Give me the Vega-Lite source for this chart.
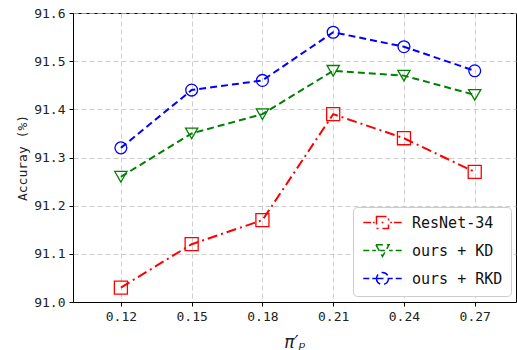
{
  "$schema": "https://vega.github.io/schema/vega-lite/v6.json",
  "width": 443,
  "height": 289,
  "autosize": {"type": "none"},
  "padding": {"left": 73, "top": 13, "right": 1, "bottom": 48},
  "background": "white",
  "config": {
    "view": {"stroke": "black", "strokeWidth": 1},
    "font": "DejaVu Sans Mono",
    "axis": {
      "domainColor": "black",
      "domainWidth": 1,
      "tickColor": "black",
      "tickSize": 4,
      "labelColor": "#222222",
      "labelFont": "DejaVu Sans Mono",
      "labelFontSize": 13,
      "gridColor": "#c0c0c0",
      "gridDash": [5, 3],
      "gridWidth": 0.8,
      "titleFontWeight": "normal",
      "titleColor": "#222222"
    }
  },
  "data": {
    "values": [
      {"pi": 0.12, "series": "ResNet-34", "acc": 91.03},
      {"pi": 0.15, "series": "ResNet-34", "acc": 91.12},
      {"pi": 0.18, "series": "ResNet-34", "acc": 91.17},
      {"pi": 0.21, "series": "ResNet-34", "acc": 91.39},
      {"pi": 0.24, "series": "ResNet-34", "acc": 91.34},
      {"pi": 0.27, "series": "ResNet-34", "acc": 91.27},
      {"pi": 0.12, "series": "ours + KD", "acc": 91.26},
      {"pi": 0.15, "series": "ours + KD", "acc": 91.35},
      {"pi": 0.18, "series": "ours + KD", "acc": 91.39},
      {"pi": 0.21, "series": "ours + KD", "acc": 91.48},
      {"pi": 0.24, "series": "ours + KD", "acc": 91.47},
      {"pi": 0.27, "series": "ours + KD", "acc": 91.43},
      {"pi": 0.12, "series": "ours + RKD", "acc": 91.32},
      {"pi": 0.15, "series": "ours + RKD", "acc": 91.44},
      {"pi": 0.18, "series": "ours + RKD", "acc": 91.46},
      {"pi": 0.21, "series": "ours + RKD", "acc": 91.56},
      {"pi": 0.24, "series": "ours + RKD", "acc": 91.53},
      {"pi": 0.27, "series": "ours + RKD", "acc": 91.48}
    ]
  },
  "encoding": {
    "x": {
      "field": "pi",
      "type": "quantitative",
      "scale": {"domain": [0.0997, 0.2875], "nice": false, "zero": false},
      "axis": {
        "values": [0.12, 0.15, 0.18, 0.21, 0.24, 0.27],
        "format": ".2f",
        "labelPadding": 4,
        "title": "π′ₚ",
        "titleFont": "DejaVu Sans",
        "titleFontStyle": "italic",
        "titleFontSize": 17,
        "titlePadding": 11
      }
    },
    "y": {
      "field": "acc",
      "type": "quantitative",
      "scale": {"domain": [91.0, 91.6], "nice": false, "zero": false},
      "axis": {
        "values": [91.0, 91.1, 91.2, 91.3, 91.4, 91.5, 91.6],
        "format": ".1f",
        "labelPadding": 4,
        "title": "Accuray (%)",
        "titleFont": "DejaVu Sans Mono",
        "titleFontSize": 13,
        "titlePadding": 4
      }
    },
    "color": {
      "field": "series",
      "type": "nominal",
      "scale": {"domain": ["ResNet-34", "ours + KD", "ours + RKD"], "range": ["#ff0000", "#008000", "#0000ff"]},
      "legend": {
        "title": null,
        "orient": "none",
        "legendX": 280,
        "legendY": 194,
        "symbolSize": 144,
        "symbolStrokeWidth": 1.5,
        "symbolOffset": 14,
        "labelOffset": 22,
        "labelFontSize": 15,
        "labelFont": "DejaVu Sans Mono",
        "labelColor": "#111111",
        "rowPadding": 9,
        "padding": 8,
        "fillColor": "white",
        "strokeColor": "#cccccc",
        "cornerRadius": 4,
        "symbolOpacity": 1,
        "encode": {"symbols": {"update": {"opacity": {"value": 1}, "fill": {"value": "transparent"}}}}
      }
    }
  },
  "layer": [
    {
      "mark": {"type": "line", "strokeWidth": 2},
      "encoding": {
        "strokeDash": {
          "field": "series",
          "type": "nominal",
          "scale": {"domain": ["ResNet-34", "ours + KD", "ours + RKD"], "range": [[10, 4, 2, 4], [7, 4], [7, 4]]},
          "legend": null
        }
      }
    },
    {
      "transform": [{"filter": "datum.series === 'ResNet-34'"}],
      "mark": {"type": "point", "shape": "square", "filled": false, "size": 170, "strokeWidth": 1.3, "opacity": 1}
    },
    {
      "transform": [{"filter": "datum.series === 'ours + KD'"}],
      "mark": {"type": "point", "shape": "triangle-down", "filled": false, "size": 150, "strokeWidth": 1.3, "opacity": 1}
    },
    {
      "transform": [{"filter": "datum.series === 'ours + RKD'"}],
      "mark": {"type": "point", "shape": "circle", "filled": false, "size": 140, "strokeWidth": 1.3, "opacity": 1}
    },
    {
      "mark": {"type": "point", "filled": false, "opacity": 0, "size": 144},
      "encoding": {
        "shape": {
          "field": "series",
          "type": "nominal",
          "scale": {
            "domain": ["ResNet-34", "ours + KD", "ours + RKD"],
            "range": [
              "M-3.2,0H-1.9M-1.6,0H-1.3M-1,-1H1V1H-1ZM-0.15,0H0.15M1.3,0H1.6M1.9,0H3.2",
              "M-3.2,0H-2.2M-1.7,0H-1.1M-1.1,-0.95H1.1L0,1ZM-0.4,0H0.4M1.1,0H1.7M2.2,0H3.2",
              "M-3.2,0H-2.2M-1.7,0H-1M-1,0A1,1 0 1,0 1,0A1,1 0 1,0 -1,0ZM-1,0H1M1,0H1.7M2.2,0H3.2"
            ]
          },
          "legend": {
            "title": null,
            "orient": "none",
            "legendX": 280,
            "legendY": 194,
            "symbolSize": 144,
            "symbolStrokeWidth": 1.5,
            "symbolOffset": 14,
            "labelOffset": 22,
            "labelFontSize": 15,
            "labelFont": "DejaVu Sans Mono",
            "labelColor": "#111111",
            "rowPadding": 9,
            "padding": 8,
            "fillColor": "white",
            "strokeColor": "#cccccc",
            "cornerRadius": 4,
            "symbolOpacity": 1,
            "encode": {"symbols": {"update": {"opacity": {"value": 1}, "fill": {"value": "transparent"}}}}
          }
        }
      }
    }
  ]
}
